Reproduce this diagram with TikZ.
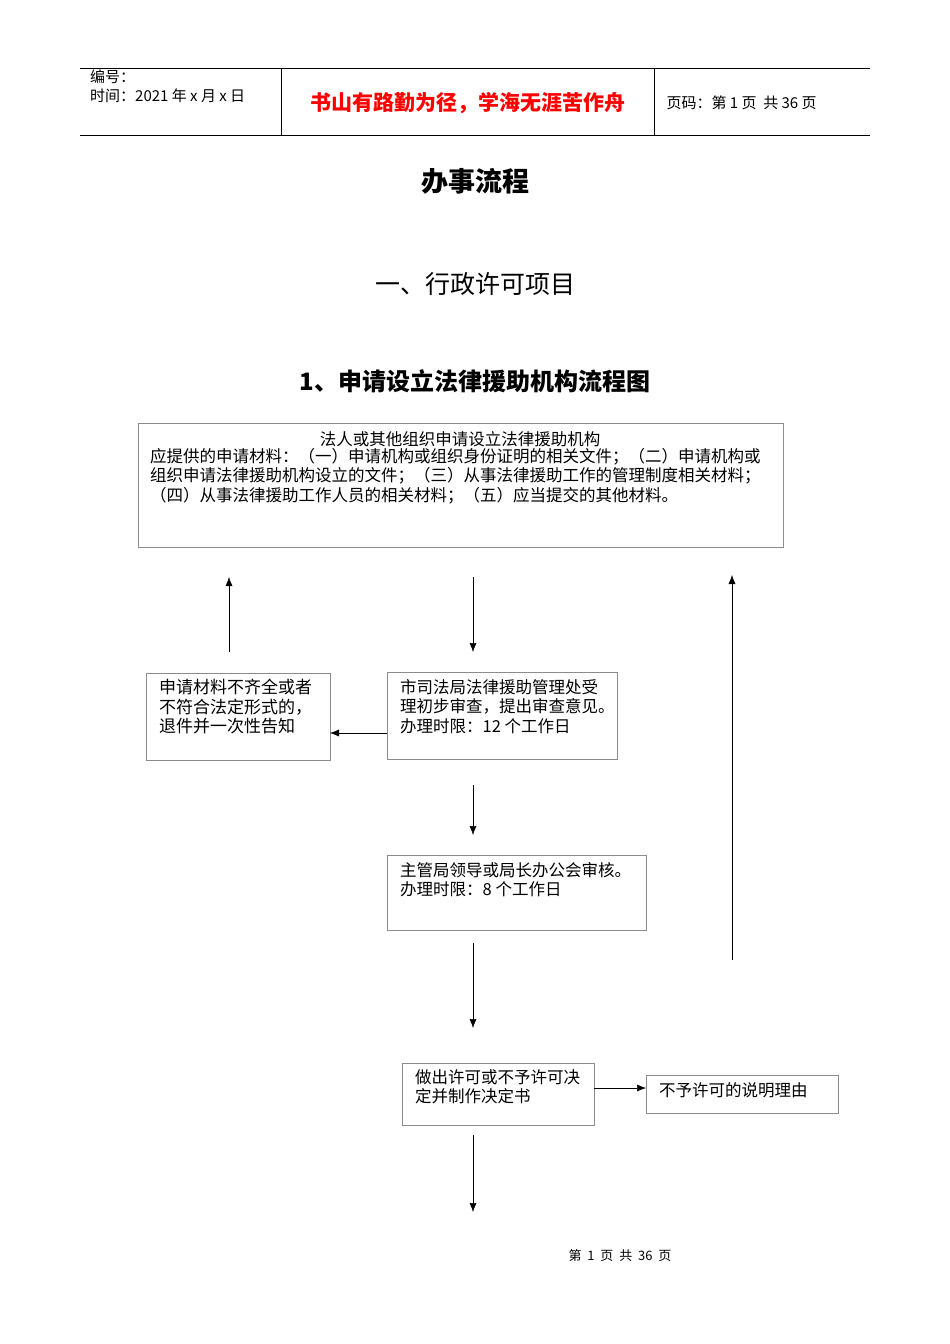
\documentclass[tikz,border=0pt]{standalone}
\usepackage{fontspec}
\setmainfont{Noto Sans CJK SC}
\usetikzlibrary{arrows.meta}
\begin{document}
\begin{tikzpicture}[x=1pt,y=-1pt,
  bx/.style={draw=black!45,line width=0.6pt},
  txt/.style={font=\fontsize{16.5}{19.5}\selectfont,align=left,anchor=north west,inner sep=0pt},
  arr/.style={-{Latex[length=9pt,width=7pt]},line width=0.5pt}]
\useasboundingbox (0,0) rectangle (950,1344);
\draw[line width=0.6pt] (80,68)--(870,68) (80,135)--(870,135) (281,68)--(281,135) (654,68)--(654,135);
\node[txt,font=\fontsize{15}{19}\selectfont] (h1) at (90,70) {编号：\\时间：2021 年 x 月 x 日};
\node[font=\bfseries\fontsize{21}{24}\selectfont,text=red] (h2) at (468,103) {书山有路勤为径，学海无涯苦作舟};
\node[anchor=west,font=\fontsize{15}{17}\selectfont] (h3) at (663,103) {页码：第 1 页\ \ 共 36 页};
\node[font=\bfseries\fontsize{27}{30}\selectfont] (t1) at (475,181) {办事流程};
\node[font=\fontsize{25}{28}\selectfont] (t2) at (475,284) {一、行政许可项目};
\node[font=\bfseries\fontsize{24}{27}\selectfont] (t3) at (475,381) {1、申请设立法律援助机构流程图};
\draw[bx] (138,423) rectangle (783,547);
\node[font=\fontsize{16.5}{19}\selectfont] (b1a) at (460,439) {法人或其他组织申请设立法律援助机构};
\node[txt] (b1) at (150,448) {应提供的申请材料：（一）申请机构或组织身份证明的相关文件；（二）申请机构或\\组织申请法律援助机构设立的文件；（三）从事法律援助工作的管理制度相关材料；\\（四）从事法律援助工作人员的相关材料；（五）应当提交的其他材料。};
\coordinate (a1s) at (229,652); \coordinate (a1e) at (229,577);
\draw[arr] (a1s)--(a1e);
\coordinate (a2s) at (473,577); \coordinate (a2e) at (473,652);
\draw[arr] (a2s)--(a2e);
\coordinate (a3s) at (732,960); \coordinate (a3e) at (732,575);
\draw[arr] (a3s)--(a3e);
\draw[bx] (146,673) rectangle (330,760);
\node[txt,font=\fontsize{17}{19.5}\selectfont] (b2) at (159,679) {申请材料不齐全或者\\不符合法定形式的，\\退件并一次性告知};
\draw[bx] (387,672) rectangle (617,759);
\node[txt] (b3) at (400,679) {市司法局法律援助管理处受\\理初步审查，提出审查意见。\\办理时限：12 个工作日};
\coordinate (l3) at (387,733); \coordinate (r2) at (330,733);
\draw[arr] (l3)--(r2);
\coordinate (a4s) at (473,785); \coordinate (a4e) at (473,835);
\draw[arr] (a4s)--(a4e);
\draw[bx] (387,855) rectangle (646,930);
\node[txt] (b4) at (400,862) {主管局领导或局长办公会审核。\\办理时限：8 个工作日};
\coordinate (a5s) at (473,943); \coordinate (a5e) at (473,1028);
\draw[arr] (a5s)--(a5e);
\draw[bx] (402,1063) rectangle (594,1125);
\node[txt] (b5) at (415,1069) {做出许可或不予许可决\\定并制作决定书};
\draw[bx] (646,1075) rectangle (838,1113);
\node[txt] (b6) at (659,1082) {不予许可的说明理由};
\coordinate (r5) at (594,1088); \coordinate (l6) at (646,1088);
\draw[arr] (r5)--(l6);
\coordinate (a6s) at (473,1135); \coordinate (a6e) at (473,1212);
\draw[arr] (a6s)--(a6e);
\node[font=\fontsize{13}{14}\selectfont] (f) at (620,1256) {第\ \ 1\ \ 页\ \ 共\ \ 36\ \ 页};
\end{tikzpicture}
\end{document}
